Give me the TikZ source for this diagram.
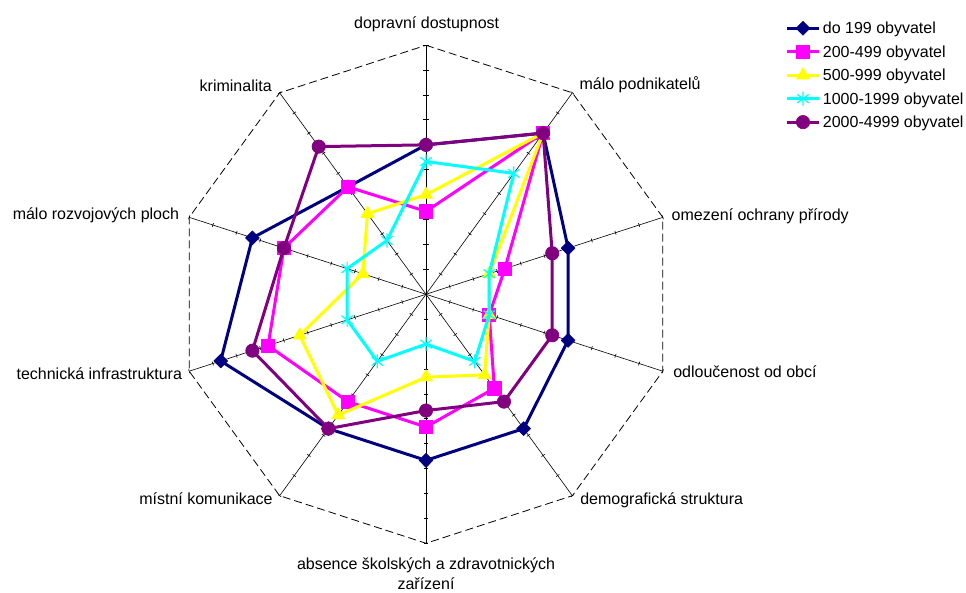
\documentclass[tikz,border=0pt]{standalone}
\usepackage{fontspec}
\setmainfont{Liberation Sans}
\usetikzlibrary{plotmarks}
\definecolor{serA}{RGB}{0,0,128}
\definecolor{serB}{RGB}{255,0,255}
\definecolor{serC}{RGB}{255,255,0}
\definecolor{serD}{RGB}{0,255,255}
\definecolor{serE}{RGB}{128,0,128}
\pgfdeclareplotmark{xstar}{%
  \pgfpathmoveto{\pgfqpoint{0pt}{\pgfplotmarksize}}%
  \pgfpathlineto{\pgfqpoint{0pt}{-\pgfplotmarksize}}%
  \pgfpathmoveto{\pgfqpoint{-0.8\pgfplotmarksize}{0.6\pgfplotmarksize}}%
  \pgfpathlineto{\pgfqpoint{0.8\pgfplotmarksize}{-0.6\pgfplotmarksize}}%
  \pgfpathmoveto{\pgfqpoint{-0.8\pgfplotmarksize}{-0.6\pgfplotmarksize}}%
  \pgfpathlineto{\pgfqpoint{0.8\pgfplotmarksize}{0.6\pgfplotmarksize}}%
  \pgfusepathqstroke}
\tikzset{
  spoke/.style={black, line width=0.45pt},
  mainaxis/.style={black, line width=0.75pt},
  rim/.style={black, line width=0.6pt, dash pattern=on 6pt off 3pt},
  series/.style={line width=2.25pt, line join=round},
  lbl/.style={inner sep=0pt, font=\fontsize{12}{14.6}\selectfont},
  markA/.style={serA, mark=diamond*, mark size=5.2pt, mark options={solid, line width=0.5pt, xscale=1.33}},
  markB/.style={serB, mark=square*, mark size=4.9pt, mark options={solid, line width=0.5pt}},
  markC/.style={serC, mark=triangle*, mark size=5.6pt, mark options={solid, line width=0.5pt}},
  markD/.style={serD, mark=xstar, mark size=5.3pt, mark options={solid, line width=0.9pt}},
  markE/.style={serE, mark=*, mark size=5pt, mark options={solid, line width=0.5pt}},
}
\begin{document}
\begin{tikzpicture}[x=186.75pt,y=186.75pt]
  \useasboundingbox (-319.5pt,-223.3pt) rectangle (405pt,220.7pt);
  \foreach \a in {54,18,...,-234}{
    \draw[spoke] (0,0) -- (\a:1);
    \foreach \t in {1,...,10}
      \draw[spoke] (\a:{\t/10}) ++({\a+90}:1.5pt) -- ++({\a-90}:3pt);
  }
  \draw[mainaxis] (0,0) -- (90:1);
  \foreach \t in {1,...,10}
    \draw[mainaxis] (0,{\t/10}) ++(-2.1pt,0) -- ++(4.2pt,0);
  \draw[rim] (90:1) \foreach \a in {54,18,...,-234}{ -- (\a:1) } -- cycle;

  \node[lbl, anchor=base] (doprava) at (0.5pt,199.5pt) {dopravní dostupnost};
  \node[lbl, anchor=mid west] (podnik) at (115pt,156.2pt) {málo podnikatelů};
  \node[lbl, anchor=mid west] (priroda) at (184.1pt,58.2pt) {omezení ochrany přírody};
  \node[lbl, anchor=mid west] (odloucenost) at (185.3pt,-59.8pt) {odloučenost od obcí};
  \node[lbl, anchor=mid west] (demografie) at (115.5pt,-155pt) {demografická struktura};
  \node[lbl, anchor=north, align=center] (skoly) at (0,-197.6pt) {absence školských a zdravotnických\\zařízení};
  \node[lbl, anchor=mid east] (komunikace) at (-114.8pt,-155pt) {místní komunikace};
  \node[lbl, anchor=mid east] (infra) at (-182.8pt,-61pt) {technická infrastruktura};
  \node[lbl, anchor=mid east] (plochy) at (-185pt,59pt) {málo rozvojových ploch};
  \node[lbl, anchor=mid east] (krim) at (-115.5pt,154.7pt) {kriminalita};

  \draw[series, markA] plot[sharp cycle] coordinates {(90:0.6) (54:0.8) (18:0.6) (-18:0.6) (-54:0.667) (-90:0.667) (-126:0.667) (-162:0.867) (162:0.733) (126:0.533)};
  \draw[series, markB] plot[sharp cycle] coordinates {(90:0.333) (54:0.8) (18:0.333) (-18:0.267) (-54:0.467) (-90:0.533) (-126:0.533) (-162:0.667) (162:0.6) (126:0.533)};
  \draw[series, markC] plot[sharp cycle] coordinates {(90:0.4) (54:0.8) (18:0.267) (-18:0.267) (-54:0.4) (-90:0.333) (-126:0.6) (-162:0.533) (162:0.267) (126:0.4)};
  \draw[series, markD] plot[sharp cycle] coordinates {(90:0.533) (54:0.6) (18:0.267) (-18:0.267) (-54:0.333) (-90:0.2) (-126:0.333) (-162:0.333) (162:0.333) (126:0.267)};
  \draw[series, markE] plot[sharp cycle] coordinates {(90:0.6) (54:0.8) (18:0.533) (-18:0.533) (-54:0.533) (-90:0.467) (-126:0.667) (-162:0.733) (162:0.6) (126:0.733)};

  \foreach \st/\txt [count=\i from 0] in {markA/do 199 obyvatel, markB/200-499 obyvatel, markC/500-999 obyvatel, markD/1000-1999 obyvatel, markE/2000-4999 obyvatel}{
    \node[lbl, anchor=base west] (leg\i) at (297.5pt,{195.2pt-17.6pt*\i}) {\txt};
    \draw[series, \st] ([yshift=4.3pt]leg\i.base west) ++(-2.5pt,0) -- ++(-24.5pt,0);
    \path[\st] plot coordinates {([xshift=-14.75pt,yshift=4.3pt]leg\i.base west)};
  }
\end{tikzpicture}
\end{document}
